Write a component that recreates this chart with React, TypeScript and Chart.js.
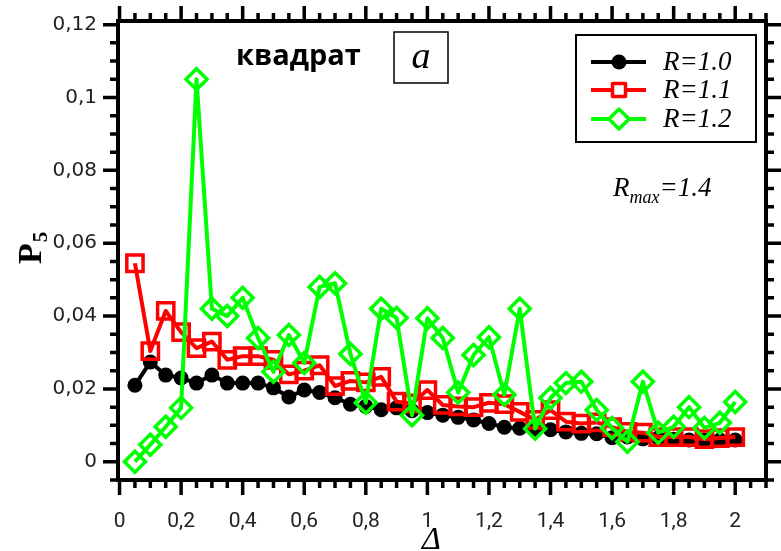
import React, { useEffect, useRef } from "react";
import { Chart, registerables } from "chart.js";

Chart.register(...registerables);

// ---------- data ----------
const DELTA = [
  0.05, 0.1, 0.15, 0.2, 0.25, 0.3, 0.35, 0.4, 0.45, 0.5,
  0.55, 0.6, 0.65, 0.7, 0.75, 0.8, 0.85, 0.9, 0.95, 1.0,
  1.05, 1.1, 1.15, 1.2, 1.25, 1.3, 1.35, 1.4, 1.45, 1.5,
  1.55, 1.6, 1.65, 1.7, 1.75, 1.8, 1.85, 1.9, 1.95, 2.0,
];

const P5_R10 = [
  0.021, 0.0274, 0.0238, 0.023, 0.0216, 0.0238, 0.0216, 0.0216, 0.0216, 0.0203,
  0.0178, 0.0197, 0.019, 0.0176, 0.0158, 0.0152, 0.0143, 0.0148, 0.014, 0.0135,
  0.0128, 0.0122, 0.0115, 0.0105, 0.0095, 0.0092, 0.0089, 0.0088, 0.0082, 0.0078,
  0.0077, 0.0066, 0.0068, 0.0063, 0.0065, 0.0062, 0.006, 0.006, 0.006, 0.006,
];

const P5_R11 = [
  0.0545, 0.0304, 0.0414, 0.0356, 0.0312, 0.033, 0.028, 0.029, 0.029, 0.028,
  0.024, 0.025, 0.0265, 0.0208, 0.0222, 0.0218, 0.0233, 0.0165, 0.016, 0.0197,
  0.0156, 0.0152, 0.015, 0.0162, 0.0158, 0.0137, 0.0115, 0.0142, 0.011, 0.0105,
  0.0108, 0.0095, 0.0082, 0.008, 0.0068, 0.0068, 0.0068, 0.0062, 0.0065, 0.0068,
];

const P5_R12 = [
  0.0, 0.0047, 0.0096, 0.0148, 0.105, 0.042, 0.04, 0.045, 0.034, 0.0247,
  0.0348, 0.0271, 0.048, 0.049, 0.0296, 0.0162, 0.042, 0.0395, 0.0128, 0.0394,
  0.034, 0.019, 0.0293, 0.0342, 0.0184, 0.042, 0.0091, 0.0175, 0.0216, 0.022,
  0.0142, 0.0093, 0.0055, 0.022, 0.008, 0.0096, 0.015, 0.0093, 0.0107, 0.0164,
];

const SERIES_LABELS = ["R=1.0", "R=1.1", "R=1.2"];
const SERIES_COLORS = ["#000000", "#ff0000", "#00ff00"];

const X_TICKS = [0, 0.2, 0.4, 0.6, 0.8, 1, 1.2, 1.4, 1.6, 1.8, 2];
const X_TICK_LABELS = ["0", "0,2", "0,4", "0,6", "0,8", "1", "1,2", "1,4", "1,6", "1,8", "2"];
const Y_TICKS = [0, 0.02, 0.04, 0.06, 0.08, 0.1, 0.12];
const Y_TICK_LABELS = ["0", "0,02", "0,04", "0,06", "0,08", "0,1", "0,12"];
const X_MINOR_STEP = 0.05;
const Y_MINOR_STEP = 0.005;

const X_MIN = -0.005;
const X_MAX = 2.1;
const Y_MIN = -0.005;
const Y_MAX = 0.121;

const TITLE_TEXT = "квадрат";
const PANEL_TEXT = "a";

// ---------- helpers ----------
function minorValues(min: number, max: number, step: number): number[] {
  const out: number[] = [];
  const i0 = Math.ceil(min / step - 1e-9);
  const i1 = Math.floor(max / step + 1e-9);
  for (let i = i0; i <= i1; i++) out.push(+(i * step).toFixed(6));
  return out;
}
function isMajor(v: number, majors: number[]) {
  return majors.some((m) => Math.abs(m - v) < 1e-7);
}

function drawMarker(ctx: CanvasRenderingContext2D, kind: number, x: number, y: number) {
  ctx.save();
  ctx.lineJoin = "round";
  if (kind === 0) {
    ctx.fillStyle = SERIES_COLORS[0];
    ctx.beginPath();
    ctx.arc(x, y, 7.5, 0, Math.PI * 2);
    ctx.fill();
  } else if (kind === 1) {
    ctx.strokeStyle = SERIES_COLORS[1];
    ctx.lineWidth = 3.5;
    ctx.fillStyle = "#ffffff";
    ctx.beginPath();
    ctx.rect(x - 6.5, y - 6.5, 13, 13);
    ctx.fill();
    ctx.stroke();
  } else {
    ctx.strokeStyle = SERIES_COLORS[2];
    ctx.lineWidth = 3.5;
    ctx.fillStyle = "#ffffff";
    ctx.beginPath();
    ctx.moveTo(x - 10, y);
    ctx.lineTo(x, y - 10);
    ctx.lineTo(x + 10, y);
    ctx.lineTo(x, y + 10);
    ctx.closePath();
    ctx.fill();
    ctx.stroke();
  }
  ctx.restore();
}

const decorPlugin = {
  id: "decor",
  afterDraw(chart: any) {
    const ctx: CanvasRenderingContext2D = chart.ctx;
    const { left, right, top, bottom } = chart.chartArea;
    const xs = chart.scales.x;
    const ys = chart.scales.y;
    ctx.save();

    // ticks
    ctx.strokeStyle = "#000";
    ctx.lineWidth = 3.5;
    ctx.lineCap = "butt";
    for (const v of minorValues(X_MIN, X_MAX, X_MINOR_STEP)) {
      const px = xs.getPixelForValue(v);
      const len = isMajor(v, X_TICKS) ? 15 : 8;
      ctx.beginPath();
      ctx.moveTo(px, bottom);
      ctx.lineTo(px, bottom + len);
      ctx.moveTo(px, top);
      ctx.lineTo(px, top - len);
      ctx.stroke();
    }
    for (const v of minorValues(Y_MIN, Y_MAX, Y_MINOR_STEP)) {
      const py = ys.getPixelForValue(v);
      const len = isMajor(v, Y_TICKS) ? 15 : 8;
      ctx.beginPath();
      ctx.moveTo(left, py);
      ctx.lineTo(left - len, py);
      ctx.moveTo(right, py);
      ctx.lineTo(right + len, py);
      ctx.stroke();
    }

    // frame
    ctx.lineWidth = 4;
    ctx.strokeRect(left, top, right - left, bottom - top);

    // axis titles
    ctx.fillStyle = "#000";
    ctx.save();
    ctx.translate(41, 264);
    ctx.rotate(-Math.PI / 2);
    ctx.textBaseline = "alphabetic";
    ctx.textAlign = "left";
    ctx.font = "bold 34px 'Liberation Serif'";
    ctx.fillText("P", 0, 0);
    const pw = ctx.measureText("P").width;
    ctx.font = "bold 21px 'Liberation Serif'";
    ctx.fillText("5", pw + 1, 6);
    ctx.restore();

    ctx.font = "italic 32px 'Liberation Serif'";
    ctx.textAlign = "center";
    ctx.textBaseline = "alphabetic";
    ctx.fillText("Δ", xs.getPixelForValue(1.0) + 4, 549);

    // title "квадрат"
    ctx.font = "bold 29px 'Open Sans'";
    ctx.textAlign = "left";
    ctx.fillText(TITLE_TEXT, 236, 65);

    // panel letter box
    ctx.lineWidth = 1.5;
    ctx.strokeRect(394, 32, 54, 51);
    ctx.font = "italic 38px 'Liberation Serif'";
    ctx.textAlign = "center";
    ctx.fillText(PANEL_TEXT, 421, 68);

    // legend
    const lx = right - 190;
    ctx.lineWidth = 2;
    ctx.strokeRect(lx, 35, 180, 107);
    const rows = [62, 90, 119];
    for (let i = 0; i < 3; i++) {
      const y = rows[i];
      ctx.strokeStyle = SERIES_COLORS[i];
      ctx.lineWidth = 4;
      ctx.beginPath();
      ctx.moveTo(lx + 15, y);
      ctx.lineTo(lx + 70, y);
      ctx.stroke();
      drawMarker(ctx, i, lx + 43, y);
      ctx.fillStyle = "#000";
      ctx.font = "italic 27px 'Liberation Serif'";
      ctx.textAlign = "left";
      ctx.textBaseline = "middle";
      ctx.fillText(SERIES_LABELS[i], lx + 87, y + 1);
    }

    // R_max annotation
    ctx.textBaseline = "alphabetic";
    ctx.textAlign = "left";
    let ax = 613;
    ctx.font = "italic 27px 'Liberation Serif'";
    ctx.fillText("R", ax, 196);
    ax += ctx.measureText("R").width;
    ctx.font = "italic 18px 'Liberation Serif'";
    ctx.fillText("max", ax, 203);
    ax += ctx.measureText("max").width;
    ctx.font = "italic 27px 'Liberation Serif'";
    ctx.fillText("=1.4", ax, 196);

    ctx.restore();
  },
};

export default function App() {
  const ref = useRef<HTMLCanvasElement | null>(null);

  useEffect(() => {
    if (!ref.current) return;
    const mk = (vals: number[]) => DELTA.map((x, i) => ({ x, y: vals[i] }));
    const chart = new Chart(ref.current, {
      type: "line",
      data: {
        datasets: [
          {
            label: SERIES_LABELS[0],
            data: mk(P5_R10),
            borderColor: SERIES_COLORS[0],
            backgroundColor: SERIES_COLORS[0],
            borderWidth: 4,
            pointStyle: "circle",
            pointRadius: 7.5,
            pointBorderWidth: 0,
            pointBackgroundColor: SERIES_COLORS[0],
            borderJoinStyle: "round",
            order: 3,
          },
          {
            label: SERIES_LABELS[1],
            data: mk(P5_R11),
            borderColor: SERIES_COLORS[1],
            backgroundColor: "rgba(0,0,0,0)",
            borderWidth: 4,
            pointStyle: "rect",
            pointRadius: 11.5,
            pointBorderWidth: 3.5,
            pointBackgroundColor: "rgba(0,0,0,0)",
            borderJoinStyle: "round",
            order: 2,
          },
          {
            label: SERIES_LABELS[2],
            data: mk(P5_R12),
            borderColor: SERIES_COLORS[2],
            backgroundColor: "rgba(0,0,0,0)",
            borderWidth: 4,
            pointStyle: "rectRot",
            pointRadius: 10.5,
            pointBorderWidth: 3.5,
            pointBackgroundColor: "rgba(0,0,0,0)",
            borderJoinStyle: "round",
            order: 1,
          },
        ],
      },
      options: {
        responsive: false,
        animation: false,
        events: [],
        layout: { padding: { left: 0, top: 21, right: 9, bottom: 0 } },
        plugins: { legend: { display: false }, tooltip: { enabled: false } },
        scales: {
          x: {
            type: "linear",
            min: X_MIN,
            max: X_MAX,
            grid: { display: false, drawTicks: false },
            border: { display: false },
            afterBuildTicks: (s: any) => {
              s.ticks = X_TICKS.map((value) => ({ value }));
            },
            afterFit: (s: any) => {
              s.height = 71;
              s.paddingLeft = 0;
              s.paddingRight = 0;
              s.paddingTop = 0;
              s.paddingBottom = 0;
            },
            ticks: {
              autoSkip: false,
              maxRotation: 0,
              padding: 29,
              color: "#222",
              font: { family: "Roboto", size: 21 },
              callback: (_v: any, i: number) => X_TICK_LABELS[i],
            },
          },
          y: {
            type: "linear",
            min: Y_MIN,
            max: Y_MAX,
            grid: { display: false, drawTicks: false },
            border: { display: false },
            afterBuildTicks: (s: any) => {
              s.ticks = Y_TICKS.map((value) => ({ value }));
            },
            afterFit: (s: any) => {
              s.width = 118;
              s.paddingLeft = 0;
              s.paddingRight = 0;
              s.paddingTop = 0;
              s.paddingBottom = 0;
            },
            ticks: {
              autoSkip: false,
              padding: 21,
              color: "#222",
              font: { family: "'DejaVu Sans'", size: 20 },
              callback: (_v: any, i: number) => Y_TICK_LABELS[i],
            },
          },
        },
      },
      plugins: [decorPlugin],
    });
    return () => chart.destroy();
  }, []);

  return (
    <div style={{ position: "absolute", left: 0, top: 0, width: 781, height: 551, background: "#fff" }}>
      <canvas ref={ref} width={781} height={551} style={{ display: "block" }} />
    </div>
  );
}
